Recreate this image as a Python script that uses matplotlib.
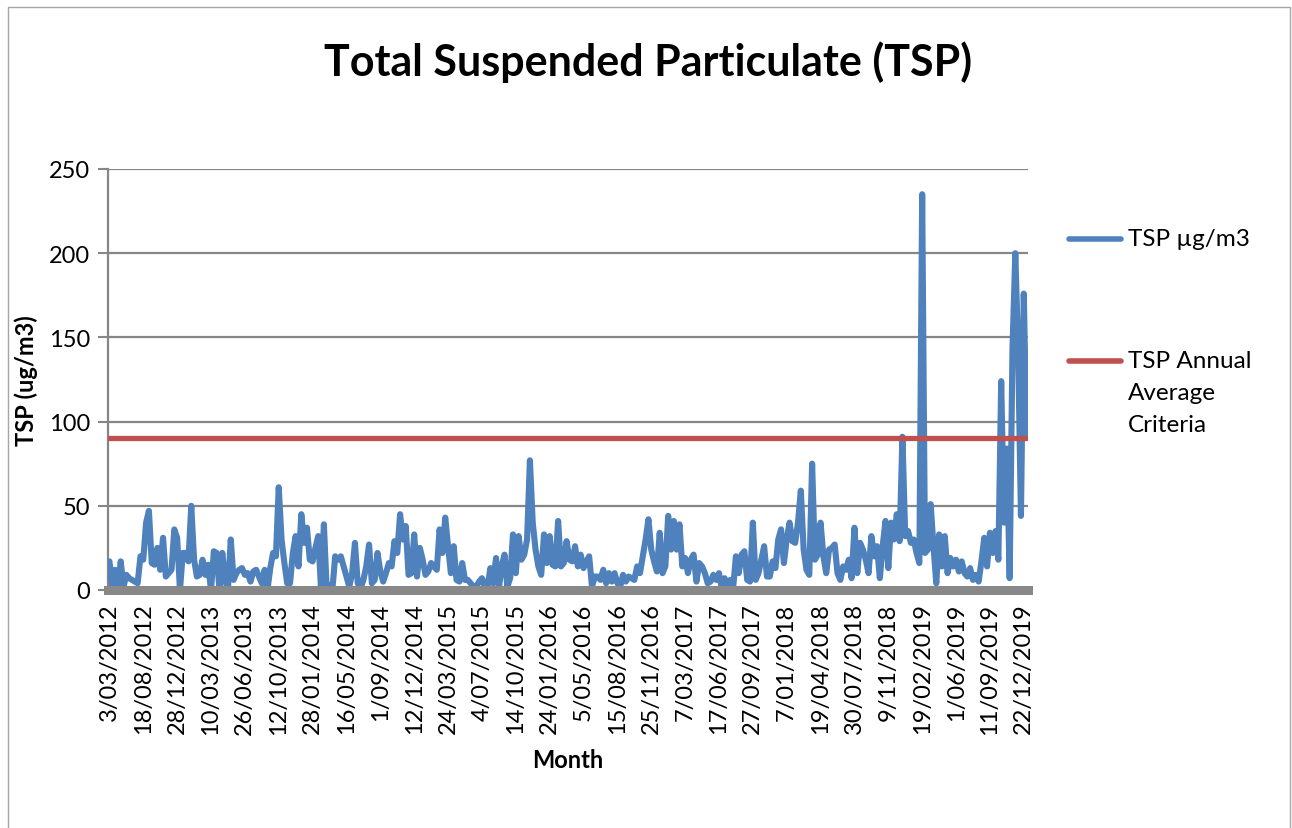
import matplotlib
matplotlib.use("Agg")
import matplotlib.pyplot as plt
from matplotlib.lines import Line2D
from matplotlib.patches import Rectangle

plt.rcParams['font.family'] = ['Lato', 'DejaVu Sans']

# TSP readings left to right (one per sample)
tsp_2012_2013 = [17, 2, 12, 0, 17, 2, 9, 7, 6, 5,
                 4, 20, 18, 40, 47, 16, 15, 25, 12, 31,
                 8, 10, 12, 36, 31, 0, 22, 22, 17, 50,
                 18, 8, 9, 18, 9, 15, 0, 23, 22, 0,
                 22, 6, 0, 30, 6, 10, 12, 13, 9, 10,
                 5, 11, 12, 8, 4, 12, 0, 13, 22, 20,
                 61, 30, 16, 4]
tsp_2013_2015 = [4, 22, 32, 14, 45, 28, 37, 18, 17, 25,
                 32, 0, 39, 0, 3, 0, 20, 18, 20, 14,
                 8, 2, 10, 28, 4, 1, 6, 14, 27, 4,
                 6, 22, 11, 5, 10, 16, 14, 29, 22, 45,
                 30, 38, 9, 10, 33, 8, 25, 18, 9, 11,
                 16, 14, 12, 36, 22, 43, 26, 10, 26, 6,
                 5, 16, 6, 6, 4, 2]
tsp_2015_2017 = [2, 5, 7, 2, 2, 13, 4, 19, 1, 14,
                 21, 2, 7, 33, 10, 32, 18, 21, 30, 77,
                 40, 24, 14, 9, 33, 16, 32, 15, 14, 41,
                 14, 16, 29, 18, 17, 26, 14, 21, 13, 17,
                 20, 2, 8, 8, 6, 12, 4, 10, 5, 10,
                 4, 2, 9, 5, 8, 7, 6, 14, 10, 20,
                 30, 42, 24, 17, 11]
tsp_2017_2018 = [34, 10, 14, 44, 24, 41, 24, 39, 14, 19,
                 10, 18, 21, 5, 16, 14, 10, 4, 5, 9,
                 6, 10, 1, 7, 1, 6, 1, 20, 10, 21,
                 23, 6, 5, 40, 6, 10, 18, 26, 8, 8,
                 17, 13, 30, 36, 16, 30, 40, 29, 28, 40,
                 59, 24, 12, 9, 75, 18, 21, 40, 20, 10,
                 24, 25, 27, 10, 6, 14]
tsp_2018_2019 = [12, 18, 7, 37, 10, 28, 24, 18, 10, 32,
                 20, 26, 7, 26, 41, 13, 40, 30, 45, 29,
                 91, 32, 35, 28, 30, 22, 16, 235, 22, 24,
                 51, 26, 4, 33, 14, 32, 10, 19, 14, 18,
                 11, 17, 10, 8, 13, 6, 9, 5, 17, 31,
                 14, 34, 22, 35, 18, 124, 40, 84, 7, 143,
                 200, 143, 44, 176, 92]

tsp = tsp_2012_2013 + tsp_2013_2015 + tsp_2015_2017 + tsp_2017_2018 + tsp_2018_2019
criteria = [90] * len(tsp)

date_labels = ["3/03/2012", "18/08/2012", "28/12/2012", "10/03/2013", "26/06/2013",
               "12/10/2013", "28/01/2014", "16/05/2014", "1/09/2014", "12/12/2014",
               "24/03/2015", "4/07/2015", "14/10/2015", "24/01/2016", "5/05/2016",
               "15/08/2016", "25/11/2016", "7/03/2017", "17/06/2017", "27/09/2017",
               "7/01/2018", "19/04/2018", "30/07/2018", "9/11/2018", "19/02/2019",
               "1/06/2019", "11/09/2019", "22/12/2019"]
label_step = 12

blue = '#4F81BD'
red = '#C0504D'
grey = '#868686'
fs = 17

fig = plt.figure(figsize=(12.92, 8.29), dpi=100)
ax = fig.add_axes([108/1292, 1 - 591/829, (1028 - 108)/1292, (591 - 170)/829])

x = list(range(len(tsp)))
ax.plot(x, tsp, color=blue, lw=4.4, solid_joinstyle='round', solid_capstyle='round', zorder=3)
ax.plot(x, criteria, color=red, lw=3.8, solid_capstyle='round', zorder=4)

ax.set_xlim(-0.5, len(tsp) - 0.5)
ax.set_ylim(0, 250)
ax.set_yticks([0, 50, 100, 150, 200, 250])
ax.set_xticks([i * label_step for i in range(len(date_labels))])
ax.set_xticklabels(date_labels, rotation=90, fontsize=fs)
ax.tick_params(axis='x', length=0, pad=9)
ax.tick_params(axis='y', length=7, width=1.5, color=grey, labelsize=fs, pad=6)

ax.grid(axis='y', color=grey, lw=1.6, zorder=0)
ax.set_axisbelow(True)
for s in ['top', 'right']:
    ax.spines[s].set_visible(False)
ax.spines['left'].set_color(grey)
ax.spines['left'].set_linewidth(1.6)
ax.spines['bottom'].set_color('#888888')
ax.spines['bottom'].set_linewidth(6.5)
ax.spines['bottom'].set_zorder(5)

ax.set_ylabel("TSP (ug/m3)", fontsize=fs, fontweight='bold', labelpad=8)
ax.set_xlabel("Month", fontsize=fs, fontweight='bold', labelpad=10)

fig.text(648/1292, 1 - 62/829, "Total Suspended Particulate (TSP)", ha='center', va='center',
         fontsize=31, fontweight='bold')

# legend drawn by hand so the red key lines up with the first text line
fig.add_artist(Line2D([1069/1292, 1121/1292], [1 - 240/829, 1 - 240/829], color=blue, lw=4,
                      solid_capstyle='round'))
fig.text(1128/1292, 1 - 240/829, "TSP µg/m3", va='center', fontsize=fs + 0.5)
fig.add_artist(Line2D([1069/1292, 1121/1292], [1 - 362/829, 1 - 362/829], color=red, lw=4,
                      solid_capstyle='round'))
for line, ypix in zip(["TSP Annual", "Average", "Criteria"], [362, 394, 426]):
    fig.text(1128/1292, 1 - ypix/829, line, va='center', fontsize=fs + 0.5)

fig.add_artist(Rectangle((8/1292, -0.01), 1282/1292, 1 - 8/829 + 0.01, transform=fig.transFigure,
                         fill=False, edgecolor='#A6A6A6', lw=1))

fig.savefig("out.png", dpi=100)
